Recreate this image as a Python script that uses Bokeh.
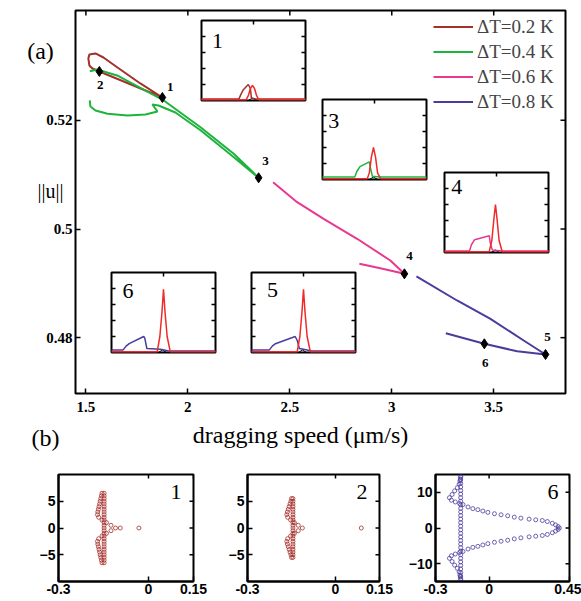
from bokeh.plotting import figure
from bokeh.models import Range1d, LinearAxis, FixedTicker, Label, ColumnDataSource
from bokeh.layouts import column, row
from bokeh.embed import file_html
from bokeh.resources import INLINE
from bokeh.core.properties import value

# ---------------- data: panel (a) ----------------
speed_ticks = [1.5, 2.0, 2.5, 3.0, 3.5]
speed_tick_labels = ["1.5", "2", "2.5", "3", "3.5"]
norm_ticks = [0.48, 0.50, 0.52]
norm_tick_labels = ["0.48", "0.5", "0.52"]

series_labels = ["\u0394T=0.2 K", "\u0394T=0.4 K", "\u0394T=0.6 K", "\u0394T=0.8 K"]

speed_02 = [1.875, 1.767, 1.655, 1.586, 1.547, 1.517, 1.512, 1.517, 1.532, 1.566, 1.733, 1.875]
norm_02 = [0.52421, 0.52679, 0.52973, 0.53157, 0.53231, 0.53212, 0.53139, 0.53010, 0.52955, 0.52900, 0.52642, 0.52421]

speed_04 = [1.519, 1.555, 1.653, 1.767, 1.882, 2.062, 2.225, 2.347, 2.209, 2.062, 1.939, 1.856,
            1.826, 1.851, 1.792, 1.704, 1.606, 1.547, 1.522, 1.519]
norm_04 = [0.52905, 0.52936, 0.52826, 0.52599, 0.52366, 0.51874, 0.51384, 0.50943, 0.51372, 0.51818,
           0.52145, 0.52274, 0.52292, 0.52163, 0.52108, 0.52089, 0.52121, 0.52182, 0.52255, 0.52366]

speed_06 = [2.418, 2.536, 2.666, 2.830, 2.993, 3.062, 2.944, 2.841]
norm_06 = [0.50862, 0.50493, 0.50188, 0.49820, 0.49420, 0.49175, 0.49278, 0.49359]

speed_08 = [3.265, 3.454, 3.615, 3.754, 3.647, 3.484, 3.320, 3.121]
norm_08 = [0.48082, 0.47887, 0.47750, 0.47690, 0.47947, 0.48347, 0.48684, 0.49126]

pt_speed = [1.875, 1.566, 2.347, 3.062, 3.754, 3.454]
pt_norm = [0.52421, 0.52900, 0.50943, 0.49175, 0.47690, 0.47887]
pt_labels = ["1", "2", "3", "4", "5", "6"]

# inset profiles (normalised inset coordinates)
red_x_1 = [0.0, 0.43, 0.45, 0.47, 0.49, 0.51, 0.53, 0.55, 1.0]
red_y_1 = [0.01, 0.01, 0.06, 0.15, 0.19, 0.15, 0.06, 0.01, 0.01]
col_x_1 = [0.0, 0.36, 0.38, 0.40, 0.45, 0.47, 0.48, 0.52, 1.0]
col_y_1 = [0.02, 0.02, 0.08, 0.13, 0.20, 0.15, 0.03, 0.02, 0.02]

red_x_3 = [0.0, 0.43, 0.45, 0.47, 0.49, 0.51, 0.53, 0.56, 1.0]
red_y_3 = [0.01, 0.01, 0.08, 0.28, 0.40, 0.28, 0.08, 0.01, 0.01]
col_x_3 = [0.0, 0.31, 0.33, 0.36, 0.45, 0.46, 0.48, 0.55, 1.0]
col_y_3 = [0.03, 0.03, 0.10, 0.16, 0.22, 0.15, 0.04, 0.03, 0.03]

red_x_4 = [0.0, 0.43, 0.455, 0.475, 0.49, 0.505, 0.525, 0.555, 1.0]
red_y_4 = [0.01, 0.01, 0.15, 0.42, 0.60, 0.42, 0.15, 0.01, 0.01]
col_x_4 = [0.0, 0.24, 0.26, 0.29, 0.43, 0.44, 0.46, 0.55, 1.0]
col_y_4 = [0.02, 0.02, 0.10, 0.16, 0.21, 0.12, 0.03, 0.02, 0.02]

red_x_6 = [0.0, 0.44, 0.465, 0.485, 0.50, 0.515, 0.535, 0.565, 1.0]
red_y_6 = [0.01, 0.01, 0.20, 0.50, 0.79, 0.50, 0.20, 0.01, 0.01]
col_x_6 = [0.0, 0.11, 0.14, 0.17, 0.31, 0.32, 0.34, 0.47, 0.55, 1.0]
col_y_6 = [0.03, 0.03, 0.08, 0.11, 0.20, 0.18, 0.05, 0.04, 0.02, 0.02]

red_x_5 = [0.0, 0.44, 0.465, 0.485, 0.50, 0.515, 0.535, 0.565, 1.0]
red_y_5 = [0.01, 0.01, 0.20, 0.50, 0.79, 0.50, 0.20, 0.01, 0.01]
col_x_5 = [0.0, 0.17, 0.20, 0.23, 0.42, 0.44, 0.46, 0.50, 0.58, 1.0]
col_y_5 = [0.03, 0.03, 0.08, 0.11, 0.20, 0.15, 0.05, 0.04, 0.02, 0.02]

base_x = [0.45, 0.49, 0.53]
base_y = [0.0, 0.03, 0.0]

# ---------------- data: panel (b) ----------------
b_x_ticks_12 = [-0.3, 0.0, 0.15]
b_x_labels_12 = ["-0.3", "0", "0.15"]
b_y_ticks_12 = [-5, 0, 5]
b_x_ticks_3 = [-0.3, 0.0, 0.45]
b_x_labels_3 = ["-0.3", "0", "0.45"]
b_y_ticks_3 = [-10, 0, 10]

b1_col_u = -0.148
b1_col_y = [6.5, 6.0, 5.5, 5.0, 4.5, 4.0, 3.5, 3.0, 2.5, 2.0, 1.5, 1.0, 0.5, 0.0, -0.5, -1.0, -1.5,
            -2.0, -2.5, -3.0, -3.5, -4.0, -4.5, -5.0, -5.5, -6.0, -6.5]
b1_curve_u = [-0.155, -0.157, -0.159, -0.161, -0.163, -0.165, -0.167, -0.169, -0.170, -0.166, -0.155,
              -0.140, -0.125, -0.110, -0.125, -0.140, -0.155, -0.166, -0.170, -0.169, -0.167, -0.165,
              -0.163, -0.161, -0.159, -0.157, -0.155]
b1_curve_y = [6.5, 6.0, 5.5, 5.0, 4.5, 4.0, 3.5, 3.0, 2.5, 2.0, 1.5, 1.0, 0.5, 0.0, -0.5, -1.0, -1.5,
              -2.0, -2.5, -3.0, -3.5, -4.0, -4.5, -5.0, -5.5, -6.0, -6.5]
b1_extra_u = [-0.094, -0.032]
b1_extra_y = [0.0, 0.0]

b2_col_u = -0.145
b2_col_y = [5.5, 5.0, 4.5, 4.0, 3.5, 3.0, 2.5, 2.0, 1.5, 1.0, 0.5, 0.0, -0.5, -1.0, -1.5, -2.0, -2.5,
            -3.0, -3.5, -4.0, -4.5, -5.0, -5.5]
b2_curve_u = [-0.150, -0.152, -0.155, -0.158, -0.161, -0.164, -0.166, -0.163, -0.153, -0.140, -0.127,
              -0.113, -0.127, -0.140, -0.153, -0.163, -0.166, -0.164, -0.161, -0.158, -0.155, -0.152,
              -0.150]
b2_curve_y = [5.5, 5.0, 4.5, 4.0, 3.5, 3.0, 2.5, 2.0, 1.5, 1.0, 0.5, 0.0, -0.5, -1.0, -1.5, -2.0, -2.5,
              -3.0, -3.5, -4.0, -4.5, -5.0, -5.5]
b2_extra_u = [0.088]
b2_extra_y = [0.0]

b3_col_u = -0.159
b3_col_y = [14.5, 13.5, 12.5, 11.5, 10.5, 9.5, 8.5, 7.5, 6.5, 5.5, 4.5, 3.5, 2.5, 1.5, 0.5, -0.5, -1.5,
            -2.5, -3.5, -4.5, -5.5, -6.5, -7.5, -8.5, -9.5, -10.5, -11.5, -12.5, -13.5, -14.5]
b3_lobe_u = [-0.159, -0.161, -0.163, -0.168, -0.178, -0.193, -0.207, -0.222, -0.211, -0.189, -0.165,
             -0.165, -0.189, -0.211, -0.222, -0.207, -0.193, -0.178, -0.168, -0.163, -0.161, -0.159]
b3_lobe_y = [14.2, 13.7, 13.2, 12.3, 11.3, 10.4, 9.4, 8.5, 7.8, 7.3, 6.86,
             -6.86, -7.3, -7.8, -8.5, -9.4, -10.4, -11.3, -12.3, -13.2, -13.7, -14.2]
b3_loop_u = [-0.146, -0.118, -0.091, -0.063, -0.035, -0.007, 0.030, 0.067, 0.104, 0.141, 0.178, 0.224,
             0.261, 0.298, 0.326, 0.354, 0.372, 0.386, 0.393,
             0.386, 0.372, 0.354, 0.326, 0.298, 0.261, 0.224, 0.178, 0.141, 0.104, 0.067, 0.030, -0.007,
             -0.035, -0.063, -0.091, -0.118, -0.146]
b3_loop_y = [6.57, 5.9, 5.43, 5.14, 4.76, 4.38, 4.0, 3.71, 3.43, 3.05, 2.76, 2.48, 2.29, 2.10, 1.81, 1.33,
             0.86, 0.40, 0.0,
             -0.40, -0.86, -1.33, -1.81, -2.10, -2.29, -2.48, -2.76, -3.05, -3.43, -3.71, -4.0, -4.38,
             -4.76, -5.14, -5.43, -5.9, -6.57]

# ---------------- styles / layout geometry ----------------
BROWN = "#a3302b"
GREEN = "#1fb33d"
PINK = "#e8388f"
PURPLE = "#4a3c9c"
RED = "#ee2a2a"
SERIF = "Liberation Serif"
SANS = "Liberation Sans"

MAIN_W, MAIN_H = 581, 453                 # canvas of the upper figure (its frame fills it)
BOX_L, BOX_R, BOX_T, BOX_B = 75, 565, 10, 393   # visible axes box (canvas px)
X0, X1 = 1.449, 3.852                     # axes box data limits
Y0, Y1 = 0.46972, 0.54022
XPP = (X1 - X0) / (BOX_R - BOX_L)
YPP = (Y1 - Y0) / (BOX_B - BOX_T)

p = figure(width=MAIN_W, height=MAIN_H,
           x_range=Range1d(X0 - BOX_L * XPP, X1 + (MAIN_W - BOX_R) * XPP),
           y_range=Range1d(Y0 - (MAIN_H - BOX_B) * YPP, Y1 + BOX_T * YPP),
           x_axis_location=None, y_axis_location=None,
           output_backend="svg", toolbar_location=None,
           min_border=0, min_border_left=0, min_border_right=0, min_border_top=0, min_border_bottom=0)
p.grid.visible = False
p.outline_line_color = None
p.background_fill_color = "white"
p.border_fill_color = "white"


def style_axis(ax, ticks, font, size, standoff, overrides=None):
    ax.ticker = FixedTicker(ticks=ticks)
    ax.major_tick_in = 5
    ax.major_tick_out = 0
    ax.minor_tick_line_color = None
    ax.axis_line_width = 2
    ax.major_tick_line_width = 1.5
    ax.major_label_standoff = standoff
    ax.major_label_text_font = font
    ax.major_label_text_font_style = "bold"
    ax.major_label_text_font_size = size
    ax.major_label_text_color = "black"
    if overrides:
        ax.major_label_overrides = overrides


# axes box
p.quad(left=[X0], right=[X1], bottom=[Y0], top=[Y1], fill_color=None, line_color="black", line_width=2)
xax = LinearAxis(fixed_location=Y0, bounds=(X0, X1), axis_line_color=None)
style_axis(xax, speed_ticks, SERIF, "15px", 8, overrides=dict(zip(speed_ticks, speed_tick_labels)))
p.add_layout(xax, "below")
yax = LinearAxis(fixed_location=X0, bounds=(Y0, Y1), axis_line_color=None)
style_axis(yax, norm_ticks, SERIF, "15px", 3, overrides=dict(zip(norm_ticks, norm_tick_labels)))
p.add_layout(yax, "left")
# mirrored ticks (top / right)
p.segment(x0=speed_ticks, y0=[Y1] * len(speed_ticks), x1=speed_ticks, y1=[Y1 - 5 * YPP] * len(speed_ticks),
          color="black", line_width=1.5)
p.segment(x0=[X1] * len(norm_ticks), y0=norm_ticks, x1=[X1 - 5 * XPP] * len(norm_ticks), y1=norm_ticks,
          color="black", line_width=1.5)

# main curves
p.line(speed_02, norm_02, color=BROWN, line_width=2, legend_label=series_labels[0])
p.line(speed_04, norm_04, color=GREEN, line_width=2, legend_label=series_labels[1])
p.line(speed_06, norm_06, color=PINK, line_width=2, legend_label=series_labels[2])
p.line(speed_08, norm_08, color=PURPLE, line_width=2, legend_label=series_labels[3])

pts = ColumnDataSource(dict(x=pt_speed, y=pt_norm, t=pt_labels,
                            dx=[8, 1, 7, 5, 2, 1], dy=[-10, 14, -17, -18, -17, 19]))
p.scatter("x", "y", source=pts, marker="diamond", size=10, color="black")
p.text("x", "y", text="t", source=pts, x_offset="dx", y_offset="dy", text_font=value(SERIF),
       text_font_style="bold", text_font_size="13px", text_align="center", text_baseline="middle",
       text_color="black")

leg = p.legend[0]
leg.location = (433, MAIN_H - 114)
leg.margin = 0
leg.padding = 0
leg.spacing = 0
leg.label_text_font = SERIF
leg.label_text_font_size = "19px"
leg.glyph_width = 40
leg.glyph_height = 25
leg.label_height = 25
leg.label_standoff = 4
leg.border_line_color = None
leg.background_fill_alpha = 0

# insets
insets = [
    ("1", (201, 305, 20, 100), red_x_1, red_y_1, col_x_1, col_y_1, BROWN, (0.10, 0.74)),
    ("3", (322, 426, 99, 179), red_x_3, red_y_3, col_x_3, col_y_3, GREEN, (0.055, 0.73)),
    ("4", (444, 548, 172, 252), red_x_4, red_y_4, col_x_4, col_y_4, PINK, (0.065, 0.82)),
    ("6", (111, 215, 272, 352), red_x_6, red_y_6, col_x_6, col_y_6, PURPLE, (0.105, 0.775)),
    ("5", (251, 355, 272, 352), red_x_5, red_y_5, col_x_5, col_y_5, PURPLE, (0.15, 0.78)),
]
inset_side_ticks = [0.2, 0.4, 0.6, 0.8]
for name, (L, R, T, B), rx, ry, cx, cy, ccol, (lx, ly) in insets:
    a = L / MAIN_W
    b = R / MAIN_W
    c = (MAIN_H - B) / MAIN_H
    d = (MAIN_H - T) / MAIN_H
    xs = -a / (b - a)
    ys = -c / (d - c)
    xn, yn = "ix" + name, "iy" + name
    p.extra_x_ranges[xn] = Range1d(xs, xs + 1 / (b - a))
    p.extra_y_ranges[yn] = Range1d(ys, ys + 1 / (d - c))
    kw = dict(x_range_name=xn, y_range_name=yn)
    p.quad(left=[0], right=[1], bottom=[0], top=[1], fill_color="white", line_color="black",
           line_width=2, **kw)
    tx = 4.0 / (R - L)
    ty = 4.0 / (B - T)
    p.segment(x0=[0.5], y0=[1.0], x1=[0.5], y1=[1.0 - ty], color="black", line_width=1.5, **kw)
    p.segment(x0=[0.0] * 4, y0=inset_side_ticks, x1=[tx] * 4, y1=inset_side_ticks,
              color="black", line_width=1.5, **kw)
    p.segment(x0=[1.0] * 4, y0=inset_side_ticks, x1=[1.0 - tx] * 4, y1=inset_side_ticks,
              color="black", line_width=1.5, **kw)
    p.line(base_x, base_y, color="black", line_width=1, **kw)
    p.line(cx, cy, color=ccol, line_width=1.5, **kw)
    p.line(rx, ry, color=RED, line_width=1.5, **kw)
    p.text(x=[lx], y=[ly], text=[name], text_font=value(SERIF), text_font_size="22px",
           text_align="left", text_baseline="middle", text_color="black", **kw)

for txt, x, y, size in [("(a)", 40, 50, "24px"), ("||u||", 50, 190, "20px"),
                        ("dragging speed (\u03bcm/s)", 300, 434, "24px"), ("(b)", 45, 437, "24px")]:
    p.add_layout(Label(x=x, y=MAIN_H - y, x_units="screen", y_units="screen", text=txt,
                       text_font=SERIF, text_font_size=size, text_align="center",
                       text_baseline="middle", text_color="black"))


# ---------------- panel (b) ----------------
B_H, B_TOP, B_BOT = 148, 21, 20
B_FH = B_H - B_TOP - B_BOT


def small_panel(width, left, right, xr, yr, xt, xl, yt, num):
    f = figure(width=width, height=B_H, x_range=Range1d(*xr), y_range=Range1d(*yr),
               output_backend="svg", toolbar_location=None,
               min_border_left=left, min_border_right=right, min_border_top=B_TOP,
               min_border_bottom=B_BOT)
    f.grid.visible = False
    f.outline_line_color = "black"
    f.outline_line_width = 2
    style_axis(f.xaxis[0], xt, SANS, "14px", 2, overrides=dict(zip(xt, xl)))
    style_axis(f.yaxis[0], yt, SANS, "14px", 3)
    fw = width - left - right
    xpp = (xr[1] - xr[0]) / fw
    ypp = (yr[1] - yr[0]) / B_FH
    f.segment(x0=xt, y0=[yr[1]] * len(xt), x1=xt, y1=[yr[1] - 4 * ypp] * len(xt),
              color="black", line_width=1.5)
    f.segment(x0=[xr[1]] * len(yt), y0=yt, x1=[xr[1] - 4 * xpp] * len(yt), y1=yt,
              color="black", line_width=1.5)
    f.add_layout(Label(x=fw - 12, y=B_FH - 17.5, x_units="screen", y_units="screen", text=num,
                       text_font=SERIF, text_font_size="22px", text_align="right",
                       text_baseline="middle", text_color="black"))
    return f


circ = dict(marker="circle", size=4, fill_color=None, line_width=0.8)

b1 = small_panel(220, 58, 27, (-0.3, 0.15), (-10, 10), b_x_ticks_12, b_x_labels_12, b_y_ticks_12, "1")
b1.scatter([b1_col_u] * len(b1_col_y), b1_col_y, line_color=BROWN, **circ)
b1.scatter(b1_curve_u, b1_curve_y, line_color=BROWN, **circ)
b1.scatter(b1_extra_u, b1_extra_y, line_color=BROWN, **circ)

b2 = small_panel(185, 27, 26, (-0.3, 0.15), (-10, 10), b_x_ticks_12, b_x_labels_12, b_y_ticks_12, "2")
b2.scatter([b2_col_u] * len(b2_col_y), b2_col_y, line_color=BROWN, **circ)
b2.scatter(b2_curve_u, b2_curve_y, line_color=BROWN, **circ)
b2.scatter(b2_extra_u, b2_extra_y, line_color=BROWN, **circ)

b3 = small_panel(176, 29, 12, (-0.3, 0.45), (-15, 15), b_x_ticks_3, b_x_labels_3, b_y_ticks_3, "6")
b3.scatter([b3_col_u] * len(b3_col_y), b3_col_y, line_color=PURPLE, **circ)
b3.scatter(b3_lobe_u, b3_lobe_y, line_color=PURPLE, **circ)
b3.scatter(b3_loop_u, b3_loop_y, line_color=PURPLE, **circ)

layout = column(p, row(b1, b2, b3))
open("out.html", "w").write(file_html(layout, INLINE))
